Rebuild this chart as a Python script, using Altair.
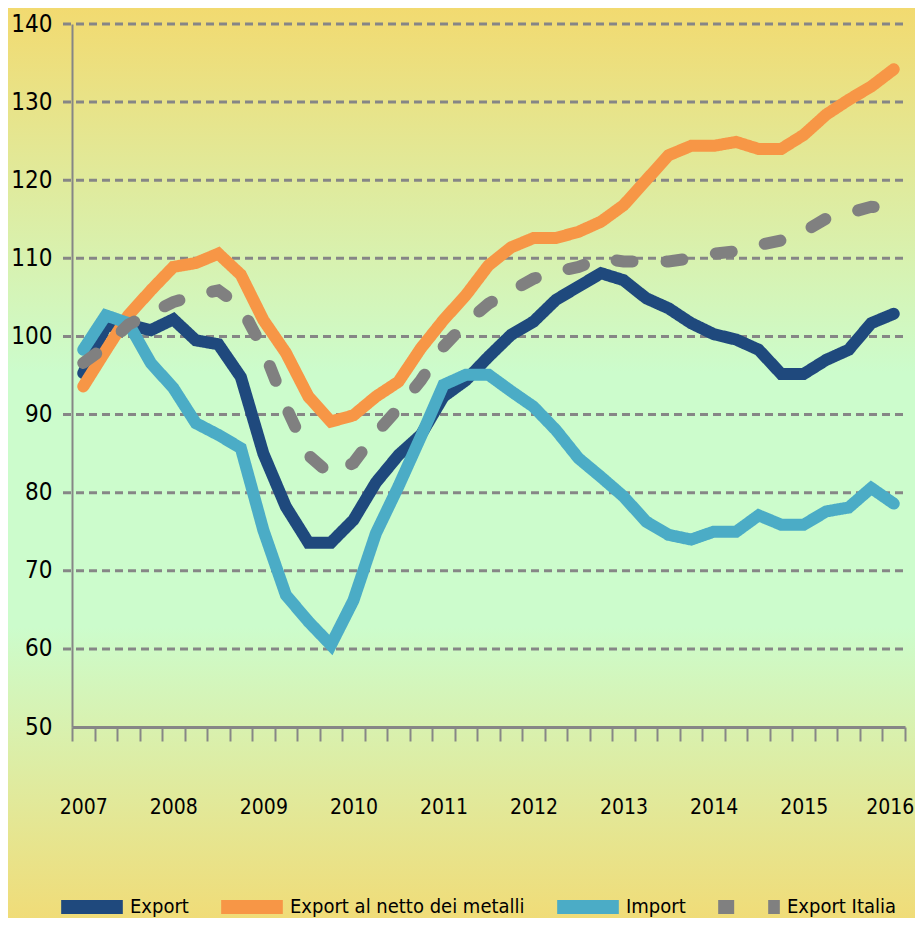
import altair as alt
import pandas as pd

years = ["2007", "2008", "2009", "2010", "2011", "2012", "2013", "2014", "2015", "2016"]
series_names = ["Export", "Export al netto dei metalli", "Import", "Export Italia"]
series_colors = ["#1F497D", "#F79646", "#4BACC6", "#808080"]

export = [95.3, 101.3, 101.5, 100.8, 102.2, 99.5, 99.0, 94.8, 85.0, 78.2, 73.6, 73.6,
          76.5, 81.3, 84.8, 87.4, 92.3, 94.4, 97.4, 100.2, 101.9, 104.7, 106.4, 108.1,
          107.2, 104.9, 103.6, 101.7, 100.3, 99.6, 98.3, 95.2, 95.2, 97.0, 98.3, 101.7, 102.9]
export_netto = [93.6, 98.2, 102.7, 105.9, 108.9, 109.4, 110.6, 107.9, 102.1, 97.9, 92.3, 89.1,
                89.9, 92.3, 94.2, 98.5, 102.1, 105.3, 109.1, 111.4, 112.6, 112.6, 113.4, 114.7,
                116.8, 120.0, 123.2, 124.4, 124.4, 124.9, 124.0, 124.0, 125.8, 128.4, 130.3, 132.0, 134.2]
import_ = [98.3, 102.7, 101.7, 96.6, 93.4, 88.9, 87.4, 85.7, 75.2, 66.9, 63.5, 60.5,
           66.2, 74.8, 80.8, 87.2, 93.8, 95.1, 95.1, 93.0, 91.0, 88.0, 84.4, 82.0,
           79.5, 76.3, 74.6, 74.0, 75.0, 75.0, 77.1, 75.9, 75.9, 77.6, 78.1, 80.6, 78.6]
export_italia = [96.6, 98.7, 101.5, 103.0, 104.4, 105.3, 105.9, 103.8, 98.3, 91.0, 84.8, 82.3,
                 83.8, 87.6, 90.8, 94.4, 98.7, 101.7, 104.2, 105.8, 107.4, 108.3, 108.9, 110.0,
                 109.6, 109.6, 109.6, 110.0, 110.6, 110.9, 111.7, 112.3, 113.4, 115.1, 115.8, 116.6, 116.4]
y_ticks = [50, 60, 70, 80, 90, 100, 110, 120, 130, 140]

all_series = [export, export_netto, import_, export_italia]
n = len(export)
rows = []
for name, vals in zip(series_names, all_series):
    for i, v in enumerate(vals):
        rows.append({"q": i, "value": v, "series": name})
df = pd.DataFrame(rows)

FONT = "Liberation Sans Narrow, DejaVu Sans Condensed, Arial Narrow, sans-serif"
W, H = 833, 703
PAD_L, PAD_T, PAD_R, PAD_B = 64, 16, 10, 191
GRID = "#868686"

x_scale = alt.Scale(domain=[-0.5, n - 0.5], nice=False, zero=False)
y_scale = alt.Scale(domain=[50, 140], nice=False, zero=False)

year_expr = "[" + ",".join(f"'{y}'" for y in years) + "]"
label_expr = (f"((datum.value + 0.5) % 4 == 0) ? {year_expr}[(datum.value + 0.5) / 4] : ''")

band_half = W / n / 2.0
last_tick = n - 1.5

y_axis = alt.Axis(values=y_ticks, grid=False, ticks=False, domainColor=GRID,
                  domainWidth=2, labelFontSize=24, labelFont=FONT,
                  labelColor="#000000", labelPadding=20, zindex=1)

bg = alt.Chart(alt.Data(values=[{}])).mark_rect(
    color=alt.LinearGradient(
        gradient="linear", x1=0, y1=0, x2=0, y2=1,
        stops=[alt.GradientStop(color="#F2DA70", offset=0),
               alt.GradientStop(color="#CCFCCC", offset=0.40),
               alt.GradientStop(color="#CCFCCC", offset=0.68),
               alt.GradientStop(color="#F0DC78", offset=1)]
    )
).encode(
    x=alt.value(-PAD_L), x2=alt.value(W + PAD_R),
    y=alt.value(-PAD_T), y2=alt.value(H + PAD_B)
)

grid = alt.Chart(pd.DataFrame({"value": y_ticks[1:]})).mark_rule(
    color=GRID, strokeWidth=3, strokeDash=[8, 5]
).encode(
    y=alt.Y("value:Q", scale=y_scale, title=None, axis=y_axis),
    x=alt.value(-9), x2=alt.value(W)
)

color_enc = alt.Color("series:N", scale=alt.Scale(domain=series_names, range=series_colors),
                      title=None)
dash_enc = alt.StrokeDash("series:N",
                          scale=alt.Scale(domain=series_names,
                                          range=[[1, 0], [1, 0], [1, 0], [16, 34]]),
                          title=None)

x_enc = alt.X("q:Q", scale=x_scale, title=None,
              axis=alt.Axis(values=[k - 0.5 for k in range(n + 1)], labelExpr=label_expr,
                            labelOffset={"condition": {"test": f"datum.value == {last_tick}",
                                                       "value": band_half - 4},
                                         "value": band_half},
                            grid=False, tickSize=14, tickWidth=2,
                            tickColor=GRID, domainColor=GRID, domainWidth=3,
                            labelFontSize=21, labelFont=FONT, labelColor="#000000",
                            labelPadding=55, labelOverlap=False, labelBound=False,
                            labelFlush=False, zindex=1))
y_enc = alt.Y("value:Q", scale=y_scale, title=None, axis=y_axis)

line_layers = []
for name in series_names:
    line_layers.append(
        alt.Chart(df).transform_filter(alt.datum.series == name).mark_line(
            strokeWidth=12, strokeCap="round"
        ).encode(x=x_enc, y=y_enc, color=color_enc, strokeDash=dash_enc, order="q:Q")
    )

chart = alt.layer(bg, grid, *line_layers).properties(
    width=W, height=H,
    autosize=alt.AutoSizeParams(type="none"),
    padding={"left": PAD_L, "top": PAD_T, "right": PAD_R, "bottom": PAD_B}
).configure_view(stroke=None).configure_legend(
    orient="none", legendX=-18, legendY=845, direction="horizontal",
    symbolType="stroke", symbolSize=3800, symbolStrokeWidth=14,
    labelFontSize=20, labelFont=FONT, labelColor="#000000", labelOffset=0,
    columnPadding=4, labelLimit=400
)

chart.save("out.html", embed_options={"renderer": "svg", "actions": False})
